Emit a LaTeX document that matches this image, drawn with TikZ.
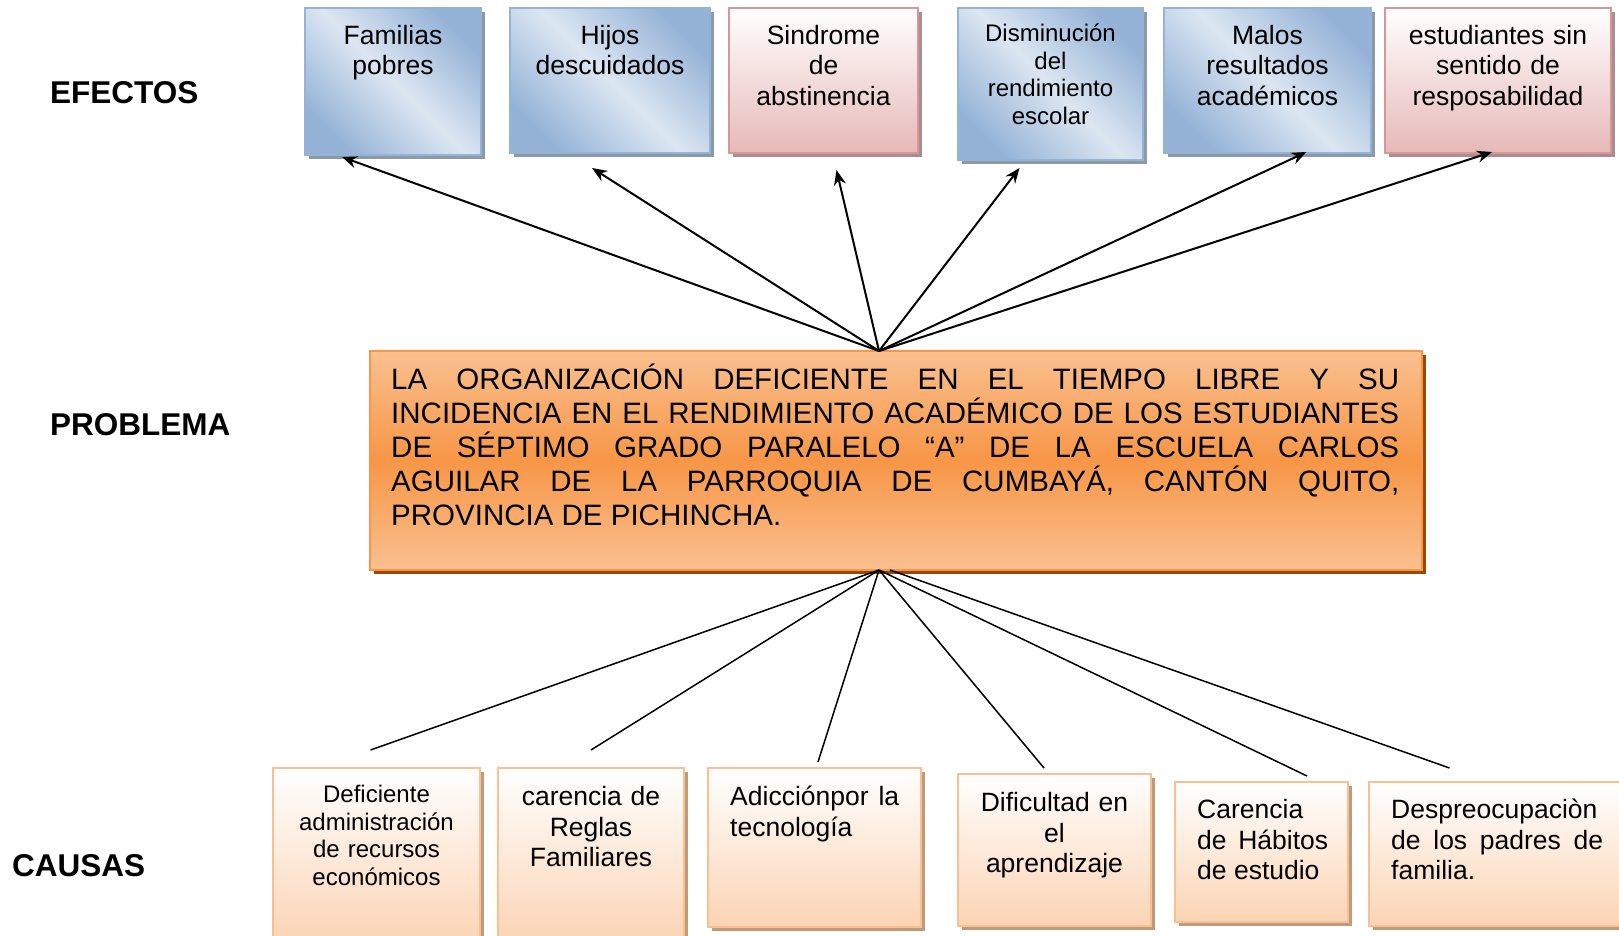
\documentclass[tikz,border=0pt]{standalone}
\usepackage{fontspec}
\setmainfont{Liberation Sans}
\usetikzlibrary{shadows,arrows.meta}
\tolerance=10000
\hyphenpenalty=10000

\definecolor{bordeazul}{HTML}{95B3D7}
\definecolor{oscazul}{HTML}{95B3D7}
\definecolor{clazul}{HTML}{DCE6F2}
\definecolor{sombraazul}{HTML}{8E99A8}
\definecolor{borderosa}{HTML}{D99694}
\definecolor{rosa}{HTML}{E6B9B8}
\definecolor{sombrarosa}{HTML}{A88E90}
\definecolor{naranja}{HTML}{F79646}
\definecolor{clnaranja}{HTML}{FAC090}
\definecolor{sombranaranja}{HTML}{984807}
\definecolor{durazno}{HTML}{FBD4B4}
\definecolor{bordedurazno}{HTML}{FAC090}
\definecolor{sombradurazno}{HTML}{BF9A7C}

\tikzset{
  caja/.style={inner sep=0, outer sep=0, anchor=north west, line width=2},
  azul/.style={caja, draw=bordeazul, top color=oscazul, bottom color=oscazul, middle color=clazul, shading angle=-45,
    drop shadow={shadow xshift=4pt, shadow yshift=-4pt, fill=sombraazul, opacity=1}},
  rosada/.style={caja, draw=borderosa, top color=white, bottom color=rosa,
    drop shadow={shadow xshift=4pt, shadow yshift=-4pt, fill=sombrarosa, opacity=1}},
  problema/.style={caja, draw=naranja, top color=clnaranja, bottom color=clnaranja, middle color=naranja,
    drop shadow={shadow xshift=4pt, shadow yshift=-4pt, fill=sombranaranja, opacity=1}},
  causa/.style={caja, draw=bordedurazno, top color=white, bottom color=durazno,
    drop shadow={shadow xshift=4pt, shadow yshift=-4pt, fill=sombradurazno, opacity=1}},
  texto/.style={inner sep=0, anchor=base, align=center, text width=#1, font=\fontsize{26.5}{30.5}\selectfont},
  textochico/.style={texto=#1, font=\fontsize{24}{27.5}\selectfont},
  textojust/.style={texto=#1, align=justify, anchor=base west},
  etiqueta/.style={inner sep=0, anchor=base west, font=\bfseries\fontsize{31.5}{36}\selectfont},
  flecha/.style={->, line width=2},
  raya/.style={line width=1.5}
}

\begin{document}
\begin{tikzpicture}[x=1pt, y=-1pt, >={Stealth[length=15pt, width=12pt]}]
  \useasboundingbox (0,0) rectangle (1619,935);

  % Etiquetas
  \node[etiqueta] (lefe) at (50,103) {EFECTOS};
  \node[etiqueta] (lpro) at (50,435) {PROBLEMA};
  \node[etiqueta] (lcau) at (12,876) {CAUSAS};

  % Efectos
  \node[azul, minimum width=176, minimum height=147] (fam) at (305,8) {};
  \node[azul, minimum width=200, minimum height=145] (hij) at (510,8) {};
  \node[rosada, minimum width=189, minimum height=145] (sin) at (729,8) {};
  \node[azul, minimum width=185, minimum height=152] (dis) at (958,8) {};
  \node[azul, minimum width=207, minimum height=145] (mal) at (1164,8) {};
  \node[rosada, minimum width=226, minimum height=145] (est) at (1385,8) {};

  \node[texto=170] (tfam) at ([yshift=-36]fam.north) {Familias\\pobres};
  \node[texto=190] (thij) at ([yshift=-36]hij.north) {Hijos\\descuidados};
  \node[texto=180] (tsin) at ([yshift=-36]sin.north) {Sindrome\\de\\abstinencia};
  \node[textochico=180] (tdis) at ([yshift=-33.5]dis.north) {Disminución\\del\\rendimiento\\escolar};
  \node[texto=200] (tmal) at ([yshift=-36]mal.north) {Malos\\resultados\\académicos};
  \node[texto=220] (test) at ([yshift=-36]est.north) {estudiantes sin\\sentido de\\resposabilidad};

  % Problema
  \node[problema, minimum width=1052, minimum height=219] (prob) at (370,351) {};
  \node[textojust=1008, font=\fontsize{29.5}{34}\selectfont] (tprob) at ([xshift=21, yshift=-38.5]prob.north west)
    {LA ORGANIZACIÓN DEFICIENTE EN EL TIEMPO LIBRE Y SU\linebreak
     INCIDENCIA EN EL RENDIMIENTO ACADÉMICO DE LOS ESTUDIANTES\linebreak
     DE SÉPTIMO GRADO PARALELO “A” DE LA ESCUELA CARLOS\linebreak
     AGUILAR DE LA PARROQUIA DE CUMBAYÁ, CANTÓN QUITO,\linebreak
     PROVINCIA DE PICHINCHA.};

  % Causas
  \node[causa, minimum width=207, minimum height=175] (def) at (273,768) {};
  \node[causa, minimum width=186, minimum height=175] (car) at (498,768) {};
  \node[causa, minimum width=213, minimum height=159] (adi) at (708,768) {};
  \node[causa, minimum width=193, minimum height=152] (dif) at (958,774) {};
  \node[causa, minimum width=173, minimum height=140] (hab) at (1175,782) {};
  \node[causa, minimum width=262, minimum height=144] (des) at (1369,782) {};

  \node[textochico=200] (tdef) at ([yshift=-34.5]def.north) {Deficiente\\administración\\de recursos\\económicos};
  \node[texto=180] (tcar) at ([yshift=-37.5]car.north) {carencia de\\Reglas\\Familiares};
  \node[textojust=169] (tadi) at ([xshift=22, yshift=-37.5]adi.north west) {Adicciónpor la\linebreak tecnología};
  \node[texto=185] (tdif) at ([yshift=-37.5]dif.north) {Dificultad en\\el\\aprendizaje};
  \node[textojust=131] (thab) at ([xshift=22, yshift=-36.5]hab.north west) {Carencia\linebreak de Hábitos\linebreak de estudio};
  \node[textojust=212] (tdes) at ([xshift=22, yshift=-36.5]des.north west) {Despreocupaciòn\linebreak de los padres de\linebreak familia.};

  % Flechas hacia los efectos
  \coordinate (cima) at ([xshift=-17]prob.north);
  \draw[flecha] (cima) -- ([xshift=-51, yshift=-2]fam.south);
  \draw[flecha] (cima) -- ([xshift=-18, yshift=-15]hij.south);
  \draw[flecha] (cima) -- ([xshift=13, yshift=-17]sin.south);
  \draw[flecha] (cima) -- ([xshift=-31, yshift=-8]dis.south);
  \draw[flecha] (cima) -- ([xshift=39, yshift=1]mal.south);
  \draw[flecha] (cima) -- ([xshift=-6, yshift=1]est.south);

  % Lineas hacia las causas
  \coordinate (pie) at ([xshift=-17]prob.south);
  \coordinate (pie2) at ([xshift=-6]prob.south);
  \draw[raya] (pie) -- ([xshift=-6, yshift=18]def.north);
  \draw[raya] (pie) -- ([yshift=18]car.north);
  \draw[raya] (pie) -- ([xshift=3.5, yshift=6]adi.north);
  \draw[raya] (pie) -- ([xshift=-10.5, yshift=6]dif.north);
  \draw[raya] (pie) -- ([xshift=45.5, yshift=6]hab.north);
  \draw[raya] (pie2) -- ([xshift=-50.5, yshift=14]des.north);
\end{tikzpicture}
\end{document}
